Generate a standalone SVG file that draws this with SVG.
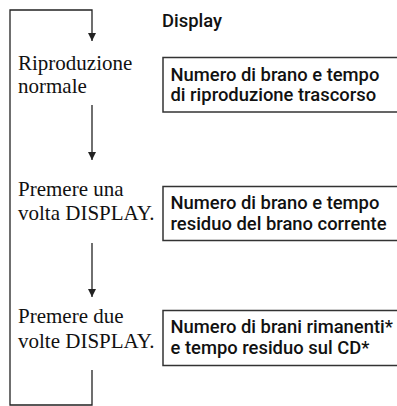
<svg xmlns="http://www.w3.org/2000/svg" width="397" height="406" viewBox="0 0 397 406">
<style>
.step{font-family:"Liberation Serif","Times New Roman",serif;font-size:21px;fill:#111}
.disp{font-family:Roboto,"Liberation Sans",Arial,sans-serif;font-size:18.4px;font-weight:500;fill:#111}
.hdr{font-family:Roboto,"Liberation Sans",Arial,sans-serif;font-size:18.4px;font-weight:500;fill:#111}
.box{fill:#fff;stroke:#333;stroke-width:1.5}
.conn{fill:none;stroke:#222;stroke-width:1.3}
</style>
<defs>
<marker id="ah" viewBox="0 0 8 8" refX="8" refY="4" markerWidth="8" markerHeight="8" markerUnits="userSpaceOnUse" orient="auto">
<path d="M0,0 L8,4 L0,8 Z" fill="#222"/>
</marker>
</defs>
<g id="connectors">
<path class="conn" d="M92,370 V405 H10 V10 H92 V41" marker-end="url(#ah)"/>
<path class="conn" d="M92,105 V160" marker-end="url(#ah)"/>
<path class="conn" d="M92,243 V297" marker-end="url(#ah)"/>
</g>
<g id="header"><text class="hdr" x="162" y="27">Display</text></g>
<g id="step1">
<text class="step" x="18" y="70">Riproduzione</text>
<text class="step" x="18" y="93">normale</text>
</g>
<g id="display1">
<rect class="box" x="163" y="57.5" width="240" height="54.5"/>
<text class="disp" x="170.5" y="81">Numero di brano e tempo</text>
<text class="disp" x="170.5" y="101">di riproduzione trascorso</text>
</g>
<g id="step2">
<text class="step" x="18" y="196">Premere una</text>
<text class="step" x="18" y="220">volta DISPLAY.</text>
</g>
<g id="display2">
<rect class="box" x="163" y="186.5" width="240" height="54"/>
<text class="disp" x="170.5" y="209">Numero di brano e tempo</text>
<text class="disp" x="170.5" y="230">residuo del brano corrente</text>
</g>
<g id="step3">
<text class="step" x="18" y="323">Premere due</text>
<text class="step" x="18" y="348">volte DISPLAY.</text>
</g>
<g id="display3">
<rect class="box" x="163" y="310.5" width="240" height="55"/>
<text class="disp" x="170.5" y="333">Numero di brani rimanenti*</text>
<text class="disp" x="170.5" y="354">e tempo residuo sul CD*</text>
</g>
</svg>
